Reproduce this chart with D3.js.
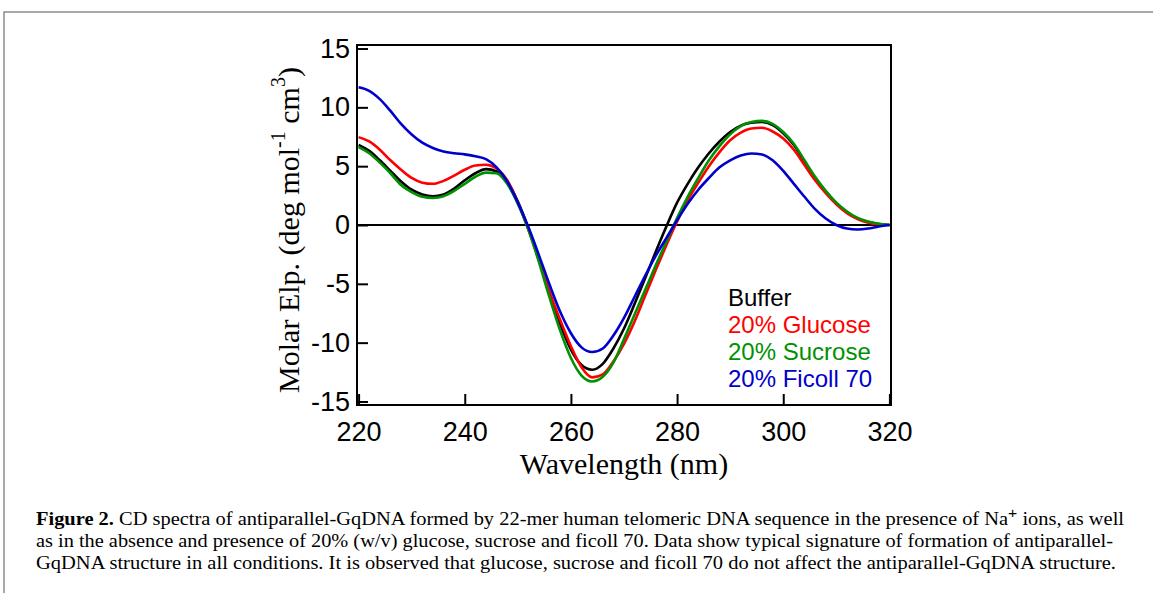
<!DOCTYPE html>
<html>
<head>
<meta charset="utf-8">
<script src="https://cdn.jsdelivr.net/npm/d3@7"></script>
<style>
  html, body { margin: 0; padding: 0; background: #fff; }
  svg { display: block; }
</style>
</head>
<body>
<svg id="chart" width="1153" height="593"></svg>
<script>
// ---- data ----
const wavelengths = [220,222,224,226,228,230,232,234,236,238,240,242,244,246,248,250,252,254,256,258,260,262,264,266,268,270,272,274,276,278,280,282,284,286,288,290,292,294,296,298,300,302,304,306,308,310,312,314,316,318,320];

const buffer = [6.8,6.3,5.5,4.6,3.7,3.0,2.6,2.45,2.6,3.1,3.8,4.4,4.75,4.55,3.7,2.0,-0.3,-3.0,-5.85,-8.45,-10.6,-11.9,-12.3,-11.8,-10.5,-8.8,-6.7,-4.5,-2.25,-0.1,1.9,3.5,4.9,6.1,7.1,7.9,8.45,8.7,8.75,8.5,7.8,6.8,5.4,4.0,2.85,1.85,1.1,0.55,0.25,0.08,0];

const glucose = [7.47,7.1,6.4,5.5,4.7,4.0,3.6,3.5,3.75,4.2,4.7,5.05,5.12,4.8,3.8,1.9,-0.4,-3.0,-5.7,-8.1,-10.3,-12.1,-12.95,-12.7,-11.6,-10.1,-8.2,-6.0,-3.8,-1.7,0.3,2.1,3.6,5.0,6.2,7.2,7.85,8.2,8.26,7.95,7.35,6.4,5.1,3.8,2.7,1.75,1.0,0.5,0.2,0.05,0];

const sucrose = [6.62,6.1,5.3,4.4,3.4,2.8,2.4,2.3,2.45,2.9,3.5,4.1,4.45,4.4,3.5,1.8,-0.4,-3.2,-6.2,-9.0,-11.3,-12.8,-13.3,-12.9,-11.7,-9.7,-7.6,-5.5,-3.4,-1.4,0.6,2.4,4.0,5.5,6.7,7.7,8.4,8.75,8.85,8.6,7.9,6.9,5.5,4.1,2.9,1.9,1.15,0.6,0.3,0.1,0];

const ficoll = [11.7,11.4,10.7,9.7,8.6,7.7,7.0,6.55,6.25,6.1,6.0,5.85,5.6,4.9,3.7,1.9,-0.2,-2.6,-5.1,-7.4,-9.2,-10.4,-10.8,-10.5,-9.4,-7.9,-6.1,-4.3,-2.6,-1.1,0.4,1.8,3.0,4.0,4.9,5.5,5.9,6.08,6.0,5.5,4.6,3.5,2.4,1.35,0.55,0.0,-0.3,-0.38,-0.3,-0.12,0];

const seriesNames = ["Buffer", "20% Glucose", "20% Sucrose", "20% Ficoll 70"];
const seriesColors = ["#000000", "#ff0000", "#009100", "#0000cc"];
const seriesValues = [buffer, glucose, sucrose, ficoll];

const xTicks = [220, 240, 260, 280, 300, 320];
const yTicks = [-15, -10, -5, 0, 5, 10, 15];

const captionLines = [
  [{t:"Figure 2.", b:true}, {t:" CD spectra of antiparallel-GqDNA formed by 22-mer human telomeric DNA sequence in the presence of Na"}, {t:"+", sup:true}, {t:" ions, as well"}],
  [{t:"as in the absence and presence of 20% (w/v) glucose, sucrose and ficoll 70. Data show typical signature of formation of antiparallel-"}],
  [{t:"GqDNA structure in all conditions. It is observed that glucose, sucrose and ficoll 70 do not affect the antiparallel-GqDNA structure."}]
];

// ---- drawing ----
const svg = d3.select("#chart");
svg.append("rect").attr("width", 1153).attr("height", 593).attr("fill", "#fff");

// outer page frame
svg.append("path").attr("d", "M4,593 V12 H1153").attr("fill", "none")
  .attr("stroke", "#8c8c8c").attr("stroke-width", 1.5);

const L = 357, R = 891, T = 45, B = 405;
const x = d3.scaleLinear().domain([219.7, 320.3]).range([L, R]);
const y = d3.scaleLinear().domain([-15.3, 15.3]).range([B, T]);

const sans = "'Liberation Sans', Arial, sans-serif";
const serif = "'Liberation Serif', 'Times New Roman', serif";

// axes
const yAxis = d3.axisLeft(y).tickValues(yTicks).tickSize(-11).tickPadding(7).tickFormat(d => String(d));
const xAxis = d3.axisBottom(x).tickValues(xTicks).tickSize(-11).tickPadding(17).tickFormat(d => String(d));

const gy = svg.append("g").attr("transform", `translate(${L},0)`).call(yAxis);
const gx = svg.append("g").attr("transform", `translate(0,${B})`).call(xAxis);
[gx, gy].forEach(g => {
  g.select(".domain").remove();
  g.selectAll(".tick line").attr("stroke", "#000").attr("stroke-width", 2);
  g.selectAll(".tick text").attr("font-family", sans).attr("font-size", 27).attr("fill", "#000");
});

// zero line
svg.append("line").attr("x1", L).attr("x2", R).attr("y1", y(0)).attr("y2", y(0))
  .attr("stroke", "#000").attr("stroke-width", 2);

// curves
const line = d3.line().x(d => x(d[0])).y(d => y(d[1])).curve(d3.curveMonotoneX);
seriesValues.forEach((vals, i) => {
  svg.append("path")
    .datum(wavelengths.map((w, j) => [w, vals[j]]))
    .attr("d", line).attr("fill", "none")
    .attr("stroke", seriesColors[i]).attr("stroke-width", 2.6)
    .attr("stroke-linejoin", "round");
});

// frame
svg.append("rect").attr("x", L).attr("y", T).attr("width", R - L).attr("height", B - T)
  .attr("fill", "none").attr("stroke", "#000").attr("stroke-width", 2);

// legend
seriesNames.forEach((n, i) => {
  svg.append("text").attr("x", 728).attr("y", 306 + i * 27)
    .attr("font-family", sans).attr("font-size", 24).attr("fill", seriesColors[i]).text(n);
});

// x label
svg.append("text").attr("x", 624).attr("y", 474).attr("text-anchor", "middle")
  .attr("font-family", serif).attr("font-size", 30).attr("fill", "#000").text("Wavelength (nm)");

// y label
const yl = svg.append("text").attr("transform", "translate(299,230) rotate(-90)")
  .attr("text-anchor", "middle").attr("font-family", serif).attr("font-size", 30).attr("fill", "#000");
yl.append("tspan").text("Molar Elp. (deg mol");
yl.append("tspan").attr("font-size", 20).attr("dy", -14).text("-1");
yl.append("tspan").attr("dy", 14).text(" cm");
yl.append("tspan").attr("font-size", 20).attr("dy", -14).text("3");
yl.append("tspan").attr("dy", 14).text(")");

// caption
const capW = [1088, 1077, 1080];
captionLines.forEach((segs, i) => {
  const t = svg.append("text").attr("x", 36).attr("y", 525 + i * 22)
    .attr("font-family", serif).attr("font-size", 19.5).attr("fill", "#000")
    .attr("textLength", capW[i]).attr("lengthAdjust", "spacingAndGlyphs");
  segs.forEach(s => {
    const ts = t.append("tspan").text(s.t);
    if (s.b) ts.attr("font-weight", "bold");
    if (s.sup) ts.attr("dy", -7).attr("font-size", 15).attr("font-family", sans);
    else if (i === 0 && s.t.startsWith(" ions")) ts.attr("dy", 7);
  });
});
</script>
</body>
</html>
